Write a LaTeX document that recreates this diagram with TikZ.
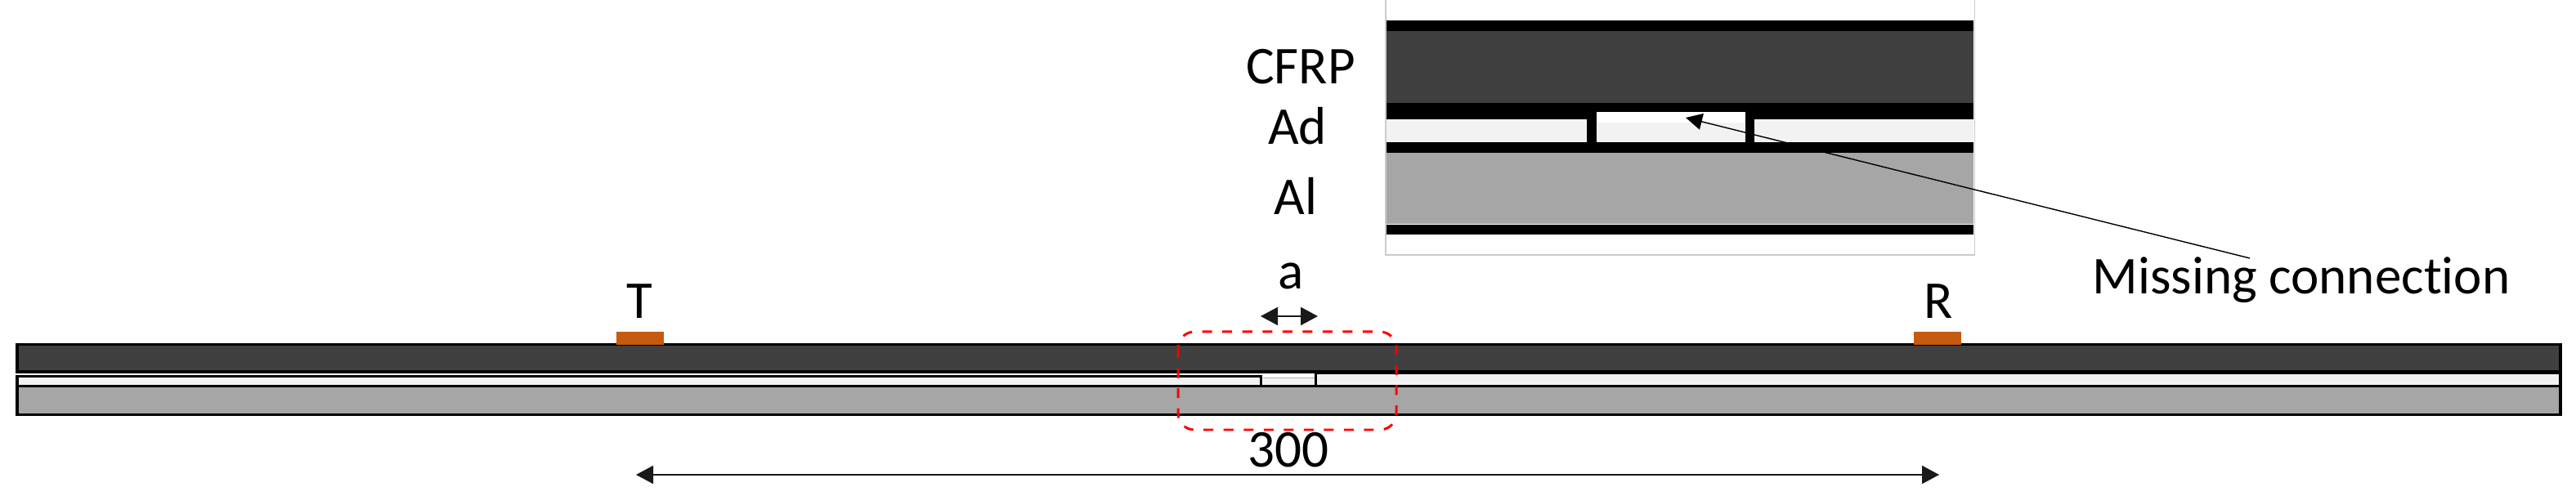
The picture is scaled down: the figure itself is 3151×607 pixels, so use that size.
\documentclass[tikz,border=0pt]{standalone}
\usepackage{fontspec}
\setmainfont[Ligatures=NoCommon]{Carlito}
\usetikzlibrary{arrows.meta}
\definecolor{cfrpgray}{HTML}{404040}
\definecolor{adgray}{HTML}{F2F2F2}
\definecolor{algray}{HTML}{A6A6A6}
\definecolor{padorange}{HTML}{C55A11}
\tikzstyle{l1} = [draw=black, line width=1.1pt]
\tikzstyle{cfrp} = [l1, fill=cfrpgray]
\tikzstyle{ad} = [l1, fill=adgray]
\tikzstyle{al} = [l1, fill=algray]
\tikzstyle{pad} = [rectangle, fill=padorange, minimum width=0.58cm, minimum height=0.16cm, inner sep=0pt]
\tikzstyle{lbl} = [anchor=base, inner sep=0pt, font=\fontsize{18.5}{22}\selectfont]
\tikzstyle{dim} = [{Triangle[length=0.21cm,width=0.22cm]}-{Triangle[length=0.21cm,width=0.22cm]}, line width=0.6pt, black!90]
\tikzstyle{leader} = [-{Triangle[length=0.2cm,width=0.2cm]}, line width=0.4pt, black]
\begin{document}
\begin{tikzpicture}[x=0.01cm, y=-0.01cm]
    \useasboundingbox (0,0) rectangle (3151,607);

    \draw[cfrp] (21,421.5) rectangle (3132,455);
    \draw[al] (21,472.5) rectangle (3132,507.5);
    \draw[ad] (21,460.5) rectangle (1542.5,472.5);
    \draw[ad] (1609.5,456) rectangle (3132,472.5);
    \fill[adgray] (1544.5,462.5) rectangle (1607.5,471);
    \draw[black!30, line width=0.3pt] (1544.5,462.5) -- (1607.5,462.5);
    \node[pad] (padT) at (783,414) {};
    \node[pad] (padR) at (2370,414) {};
    \draw[red, line width=0.85pt, rounded corners=0.2cm, dash pattern=on 0.12cm off 0.125cm] (1441,406) rectangle (1708,526);

    \draw[black!20, line width=0.3pt] (1695,0) -- (1695,312) -- (2415,312) -- (2415,0);
    \fill[cfrpgray] (1696,38) rectangle (2414,126);
    \fill[adgray] (1696,146) rectangle (1941,174);
    \fill[adgray] (2146,146) rectangle (2414,174);
    \fill[adgray] (1953,137) rectangle (2135,174);
    \fill[white] (1953,137) rectangle (2135,150);
    \fill[algray] (1696,187) rectangle (2414,274);
    \fill[black] (1696,25) rectangle (2414,38);
    \fill[black] (1696,126) rectangle (2414,137);
    \fill[black] (1696,137) rectangle (1953,146);
    \fill[black] (2135,137) rectangle (2414,146);
    \fill[black] (1941,146) rectangle (1953,174);
    \fill[black] (2135,146) rectangle (2146,174);
    \fill[black] (1696,174) rectangle (2414,187);
    \fill[black] (1696,275) rectangle (2414,287);

    \node[lbl] (labelCFRP) at (1591,103) {CFRP};
    \node[lbl] (labelAd) at (1587,177) {Ad};
    \node[lbl] (labelAl) at (1585,263) {Al};
    \node[lbl] (labelA) at (1579,354) {a};
    \node[lbl] (labelT) at (782,390) {T};
    \node[lbl] (labelR) at (2371,390) {R};
    \node[lbl] (label300) at (1576,572) {300};
    \node[lbl] (labelMissing) at (2815,360) {Missing connection};

    \coordinate (aleft) at (1542,387);
    \coordinate (aright) at (1612,387);
    \coordinate (spanleft) at (778,581);
    \coordinate (spanright) at (2372,581);
    \coordinate (leaderstart) at (2752,316);
    \coordinate (leadertip) at (2062,144);
    \draw[dim] (aleft) -- (aright);
    \draw[dim] (spanleft) -- (spanright);
    \draw[leader] (leaderstart) -- (leadertip);
\end{tikzpicture}
\end{document}
